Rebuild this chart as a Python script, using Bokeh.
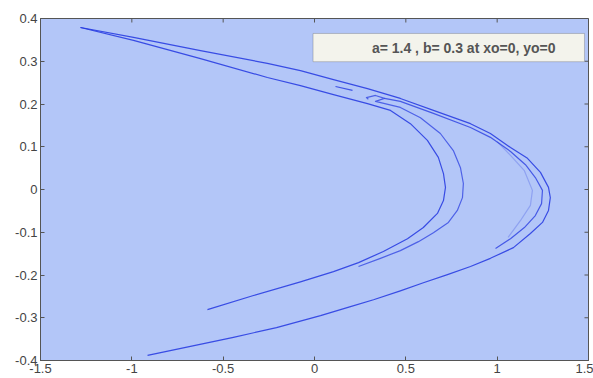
from bokeh.plotting import figure
from bokeh.models import Range1d, FixedTicker, BoxAnnotation, Label
from bokeh.embed import file_html
from bokeh.resources import INLINE

# ---- data (Henon attractor strands, a=1.4, b=0.3) ----
outer_x = [-1.281, -0.991, -0.624, -0.258, -0.077, 0.104, 0.290, 0.470, 0.651, 0.854,
           0.963, 1.073, 1.166, 1.237, 1.281, 1.291, 1.281, 1.248, 1.182, 1.089,
           0.963, 0.854, 0.728, 0.596, 0.470, 0.323, 0.197, 0.033, -0.208, -0.444,
           -0.679, -0.914]
outer_y = [0.379, 0.356, 0.325, 0.295, 0.278, 0.257, 0.236, 0.213, 0.185, 0.154,
           0.131, 0.098, 0.073, 0.040, 0.005, -0.019, -0.049, -0.077, -0.103, -0.136,
           -0.161, -0.180, -0.199, -0.218, -0.237, -0.258, -0.274, -0.295, -0.323, -0.346,
           -0.367, -0.388]

inner_x = [-1.281, -0.991, -0.624, -0.258, -0.077, 0.104, 0.290, 0.416, 0.525, 0.618,
           0.678, 0.706, 0.717, 0.706, 0.673, 0.596, 0.509, 0.377, 0.241, 0.104,
           -0.077, -0.334, -0.586]
inner_y = [0.379, 0.349, 0.306, 0.262, 0.243, 0.222, 0.201, 0.185, 0.154, 0.115,
           0.075, 0.037, 0.005, -0.026, -0.056, -0.089, -0.115, -0.145, -0.171, -0.192,
           -0.216, -0.248, -0.281]

middle_x = [0.295, 0.284, 0.334, 0.383, 0.334, 0.470, 0.580, 0.689, 0.760, 0.799,
            0.815, 0.810, 0.782, 0.733, 0.651, 0.569, 0.470, 0.361, 0.241]
middle_y = [0.211, 0.215, 0.220, 0.213, 0.206, 0.192, 0.168, 0.131, 0.091, 0.051,
            0.014, -0.019, -0.049, -0.077, -0.101, -0.122, -0.143, -0.161, -0.180]

band_x = [0.383, 0.470, 0.651, 0.854, 0.963, 1.073, 1.155, 1.209, 1.248, 1.243,
          1.209, 1.149, 1.073, 0.991]
band_y = [0.213, 0.206, 0.178, 0.145, 0.122, 0.089, 0.058, 0.028, -0.002, -0.033,
          -0.061, -0.089, -0.115, -0.138]

faint_x = [1.000, 1.073, 1.149, 1.193, 1.182, 1.127, 1.060]
faint_y = [0.112, 0.080, 0.044, -0.002, -0.037, -0.073, -0.112]

short_x = [0.115, 0.208]
short_y = [0.241, 0.232]

x_ticks = [-1.5, -1, -0.5, 0, 0.5, 1, 1.5]
x_labels = ["-1.5", "-1", "-0.5", "0", "0.5", "1", "1.5"]
y_ticks = [-0.4, -0.3, -0.2, -0.1, 0, 0.1, 0.2, 0.3, 0.4]
y_labels = ["-0.4", "-0.3", "-0.2", "-0.1", "0", "0.1", "0.2", "0.3", "0.4"]

legend_text = "a= 1.4 , b= 0.3 at xo=0, yo=0"

# ---- figure ----
W, H = 593, 378
BL, BR, BT, BB = 40, 5, 18, 18
X0, X1, Y0, Y1 = -1.5, 1.5, -0.4, 0.4
p = figure(width=W, height=H, x_range=Range1d(X0, X1), y_range=Range1d(Y0, Y1),
           output_backend="svg", toolbar_location=None,
           min_border_left=BL, min_border_right=BR, min_border_top=BT, min_border_bottom=BB,
           background_fill_color="#b3c6f8", border_fill_color="white")
p.xgrid.visible = False
p.ygrid.visible = False
p.outline_line_color = "#555555"

font = "Liberation Sans"
for ax, ticks, labels in ((p.xaxis[0], x_ticks, x_labels), (p.yaxis[0], y_ticks, y_labels)):
    ax.ticker = FixedTicker(ticks=ticks)
    ax.major_label_overrides = {t: l for t, l in zip(ticks, labels)}
    ax.major_tick_in = 4
    ax.major_tick_out = 0
    ax.minor_tick_line_color = None
    ax.axis_line_color = "#555555"
    ax.major_tick_line_color = "#555555"
    ax.major_label_text_font = font
    ax.major_label_text_font_size = "13px"
    ax.major_label_text_color = "#444444"
    ax.major_label_standoff = 3

# inward ticks on the top and right edges of the box
tick_px = 4
dx = (X1 - X0) * tick_px / (W - BL - BR)
dy = (Y1 - Y0) * tick_px / (H - BT - BB)
p.segment(x0=x_ticks, y0=[Y1] * len(x_ticks), x1=x_ticks, y1=[Y1 - dy] * len(x_ticks),
          line_color="#555555", line_width=1)
p.segment(x0=[X1] * len(y_ticks), y0=y_ticks, x1=[X1 - dx] * len(y_ticks), y1=y_ticks,
          line_color="#555555", line_width=1)

col = "#2236e0"
for xs, ys, a in ((outer_x, outer_y, 0.85), (inner_x, inner_y, 0.85), (middle_x, middle_y, 0.7),
                  (band_x, band_y, 0.75), (faint_x, faint_y, 0.25), (short_x, short_y, 0.8)):
    p.line(xs, ys, line_color=col, line_width=1.2, line_alpha=a, line_join="round")

box = BoxAnnotation(left=-0.008, right=1.478, top=0.365, bottom=0.299,
                    fill_color="#f3f3ec", fill_alpha=1.0, line_color="#555555", line_width=1)
p.add_layout(box)
p.add_layout(Label(x=0.817, y=0.332, text=legend_text, text_align="center",
                   text_baseline="middle", text_font=font, text_font_size="14px",
                   text_font_style="bold", text_color="#555555"))

open("out.html", "w").write(file_html(p, INLINE))
